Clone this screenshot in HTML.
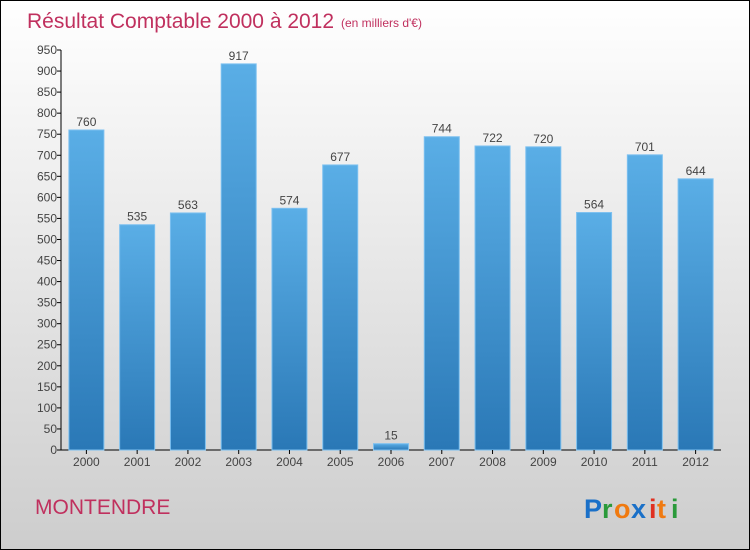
<!DOCTYPE html>
<html><head><meta charset="utf-8"><style>
body{margin:0}
#c{position:relative;width:748px;height:548px;border:1px solid #000;background:linear-gradient(#ffffff,#f0f0f0 30%,#cdcdcd);font-family:"Liberation Sans",sans-serif;overflow:hidden}
</style></head><body>
<div id="c">
<svg width="748" height="548" style="position:absolute;left:0;top:0" id="svg">
<defs><linearGradient id="bg" x1="0" y1="0" x2="0" y2="1"><stop offset="0" stop-color="#5aaee6"/><stop offset="1" stop-color="#2a78b6"/></linearGradient></defs>
<text x="26" y="27" font-size="21" fill="#c0305e">Résultat Comptable 2000 à 2012</text>
<text x="340" y="26" font-size="12" fill="#c0305e">(en milliers d'€)</text>
<text x="34" y="513" font-size="21" fill="#c0305e">MONTENDRE</text>
<g font-size="27" font-weight="bold" font-family="'Liberation Sans',sans-serif">
<text x="583" y="517" fill="#1a70c8">P</text><text x="601" y="517" fill="#2a9a3a">r</text><text x="613" y="517" fill="#f07a10">o</text><text x="630" y="517" fill="#1a70c8">x</text><text x="648" y="517" fill="#e03020">i</text><text x="656" y="517" fill="#f07a10">t</text><text x="670" y="517" fill="#2a9a3a">i</text></g>
<g id="plot"></g>
</svg>
</div>
<script>
const categories=["2000","2001","2002","2003","2004","2005","2006","2007","2008","2009","2010","2011","2012"];
const values=[760,535,563,917,574,677,15,744,722,720,564,701,644];
const yTicks=[0,50,100,150,200,250,300,350,400,450,500,550,600,650,700,750,800,850,900,950];
const NS="http://www.w3.org/2000/svg";
const g=document.getElementById('plot');
const x0=60,x1=720,y0=449,y1=49,ymax=950;
const y=v=>y0-(v/ymax)*(y0-y1);
const step=(x1-x0)/categories.length;
const xc=i=>x0+step*(i+0.5);
function mk(t,a){const e=document.createElementNS(NS,t);for(const k in a)e.setAttribute(k,a[k]);g.appendChild(e);return e;}
let e;
e=mk('line',{x1:x0,y1:y1,x2:x0,y2:y0,stroke:'#000'});


e=mk('line',{x1:x0,y1:y0,x2:x1,y2:y0,stroke:'#000'});


yTicks.forEach(v=>{
 e=mk('line',{x1:x0-4,y1:y(v),x2:x0,y2:y(v),stroke:'#000'});
 
 
 e=mk('text',{x:x0-4,y:y(v)+4,'text-anchor':'end','font-size':12,fill:'#444'});e.textContent=v;
 
 
});
categories.forEach((c,i)=>{
 const bw=35;
 e=mk('rect',{x:xc(i)-bw/2,y:y(values[i]),width:bw,height:y0-y(values[i]),fill:'url(#bg)',stroke:'#7cc0f0','stroke-width':1});
 
 
 e=mk('text',{x:xc(i),y:y(values[i])-4,'text-anchor':'middle','font-size':12,fill:'#444'});e.textContent=values[i];
 
 
 e=mk('line',{x1:xc(i),y1:y0,x2:xc(i),y2:y0+4,stroke:'#000'});
 
 
 e=mk('text',{x:xc(i),y:y0+16,'text-anchor':'middle','font-size':12,fill:'#444'});e.textContent=c;
 
 
});
</script>
</body></html>
